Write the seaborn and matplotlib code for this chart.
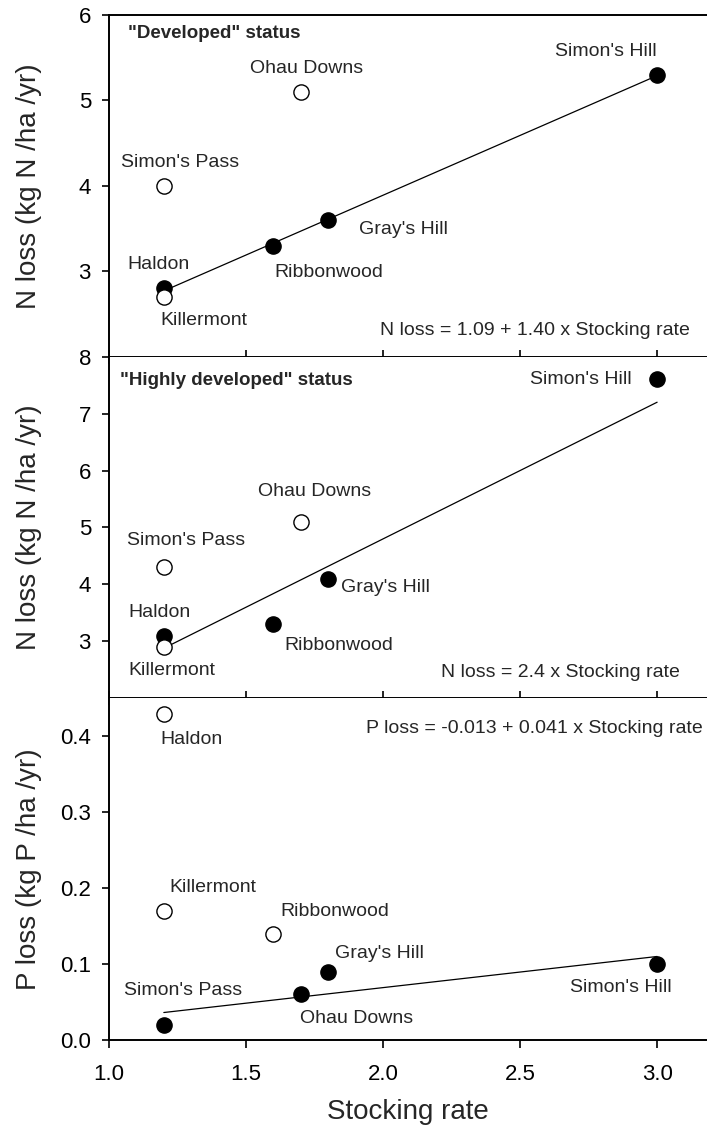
"""
N and P loss against stocking rate, three stacked panels.
"""
import numpy as np
import pandas as pd
import matplotlib.pyplot as plt
import seaborn as sns

sns.set_style("ticks")
plt.rcParams.update({
    "font.family": ["Liberation Sans", "DejaVu Sans"],
    "axes.linewidth": 1.4,
    "xtick.major.width": 1.2,
    "ytick.major.width": 1.2,
    "axes.edgecolor": "black",
    "xtick.color": "black",
    "ytick.color": "black",
})

# data
sites = ["Simon's Hill", "Ohau Downs", "Simon's Pass", "Gray's Hill",
         "Ribbonwood", "Haldon", "Killermont"]
stocking_rate = [3.0, 1.7, 1.2, 1.8, 1.6, 1.2, 1.2]

n_loss_dev = [5.3, 5.1, 4.0, 3.6, 3.3, 2.8, 2.7]
filled_dev = [True, False, False, True, True, True, False]

n_loss_high = [7.6, 5.1, 4.3, 4.1, 3.3, 3.1, 2.9]
filled_high = [True, False, False, True, True, True, False]

p_loss = [0.10, 0.06, 0.02, 0.09, 0.14, 0.43, 0.17]
filled_p = [True, True, True, True, False, False, False]

# regression lines: intercept, slope, x range
fit_dev = (1.09, 1.40)
fit_high = (0.0, 2.4)
fit_p = (-0.013, 0.041)
fit_range = [1.2, 3.0]

# label offsets in points (dx, dy) per site, for each panel
offs_dev = {"Simon's Hill": (-37, 17), "Ohau Downs": (4, 17),
            "Simon's Pass": (12, 17), "Gray's Hill": (54, -7),
            "Ribbonwood": (40, -19), "Haldon": (-4, 17),
            "Killermont": (29, -17)}
offs_high = {"Simon's Hill": (-55, 0), "Ohau Downs": (10, 22),
             "Simon's Pass": (16, 19), "Gray's Hill": (41, -6),
             "Ribbonwood": (47, -15), "Haldon": (-3, 17),
             "Killermont": (6, -17)}
offs_p = {"Simon's Hill": (-26, -17), "Ohau Downs": (40, -17),
          "Simon's Pass": (14, 25), "Gray's Hill": (37, 13),
          "Ribbonwood": (44, 16), "Haldon": (20, -19),
          "Killermont": (35, 17)}

fig = plt.figure(figsize=(7.07, 11.35), dpi=100)
top, bottom, left, right = 0.9868, 0.0837, 0.1542, 1.0
h = (top - bottom) / 3
axes = [fig.add_axes([left, top - (i + 1) * h, right - left, h]) for i in range(3)]

panels = [
    (n_loss_dev, filled_dev, fit_dev, offs_dev, (2, 6), [3, 4, 5, 6]),
    (n_loss_high, filled_high, fit_high, offs_high, (2, 8), [3, 4, 5, 6, 7, 8]),
    (p_loss, filled_p, fit_p, offs_p, (0, 0.45), [0.0, 0.1, 0.2, 0.3, 0.4]),
]

for ax, (vals, filled, fit, offs, ylim, yticks) in zip(axes, panels):
    df = pd.DataFrame({"site": sites, "rate": stocking_rate, "loss": vals,
                       "kind": ["filled" if f else "open" for f in filled]})
    fx = np.array(fit_range)
    sns.lineplot(x=fx, y=fit[0] + fit[1] * fx, color="black", lw=0.9, ax=ax)
    for kind, fc in [("filled", "black"), ("open", "white")]:
        sub = df[df["kind"] == kind]
        sns.scatterplot(data=sub, x="rate", y="loss", color=fc,
                        edgecolor="black", linewidth=1.0, s=120,
                        legend=False, ax=ax, zorder=3, clip_on=False)
    for _, r in df.iterrows():
        ax.annotate(r["site"], (r["rate"], r["loss"]), xytext=offs[r["site"]],
                    textcoords="offset points", ha="center", va="center",
                    fontsize=14)
    ax.set_xlim(1.0, 3.182)
    ax.set_ylim(*ylim)
    ax.set_yticks(yticks)
    ax.set_xticks([1.0, 1.5, 2.0, 2.5, 3.0])
    ax.spines["right"].set_visible(False)
    ax.tick_params(axis="y", direction="out", length=5, labelsize=16, pad=8)
    ax.set_xlabel("")
    ax.set_ylabel("")

axes[0].spines["top"].set_visible(True)
axes[1].spines["top"].set_visible(False)
axes[2].spines["top"].set_visible(False)
for ax in axes[:2]:
    ax.tick_params(axis="x", direction="inout", length=10, labelbottom=False)
axes[2].tick_params(axis="x", direction="out", length=6, labelsize=16, pad=11)
axes[2].set_xticklabels(["1.0", "1.5", "2.0", "2.5", "3.0"])
axes[2].set_yticklabels(["0.0", "0.1", "0.2", "0.3", "0.4"])

ylabels = ["N loss (kg N /ha /yr)", "N loss (kg N /ha /yr)", "P loss (kg P /ha /yr)"]
for ax, lab in zip(axes, ylabels):
    ax.set_ylabel(lab, fontsize=20)
    ax.yaxis.set_label_coords(-0.112, 0.5)
axes[2].set_xlabel("Stocking rate", fontsize=20, labelpad=10)

axes[0].text(0.032, 0.947, '"Developed" status', transform=axes[0].transAxes,
             fontsize=13.5, fontweight="bold", va="center", ha="left")
axes[1].text(0.018, 0.93, '"Highly developed" status', transform=axes[1].transAxes,
             fontsize=13.5, fontweight="bold", va="center", ha="left")
axes[0].text(0.972, 0.076, "N loss = 1.09 + 1.40 x Stocking rate",
             transform=axes[0].transAxes, fontsize=14, ha="right", va="center")
axes[1].text(0.955, 0.076, "N loss = 2.4 x Stocking rate",
             transform=axes[1].transAxes, fontsize=14, ha="right", va="center")
axes[2].text(0.993, 0.912, "P loss = -0.013 + 0.041 x Stocking rate",
             transform=axes[2].transAxes, fontsize=14, ha="right", va="center")

fig.savefig("out.png", dpi=100)
